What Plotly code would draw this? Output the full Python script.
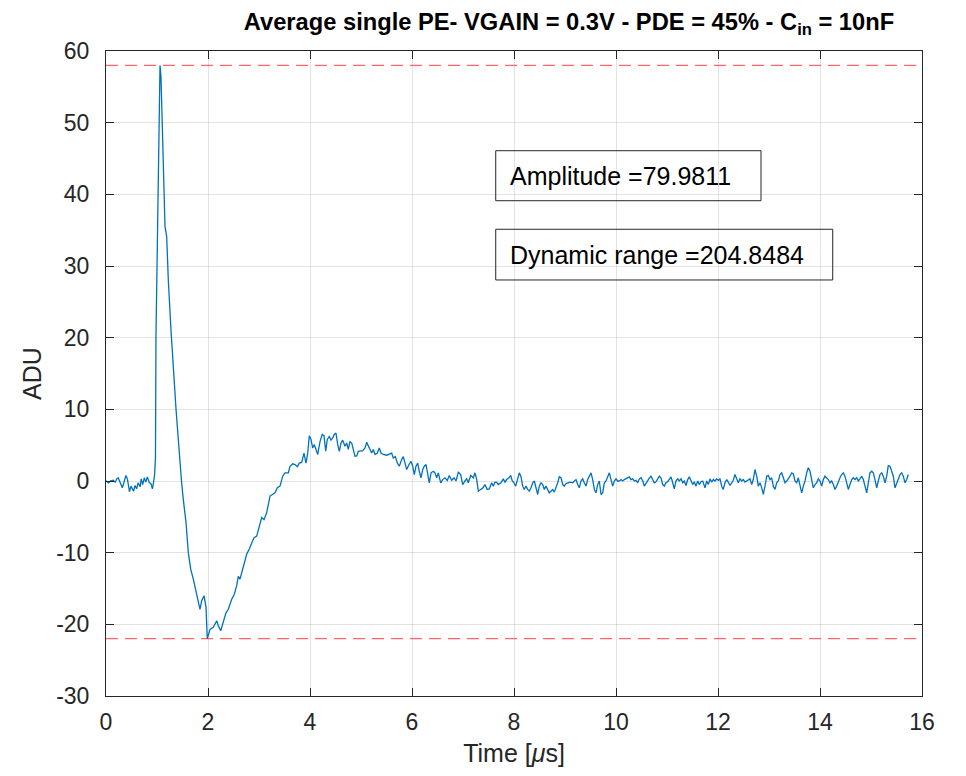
import plotly.graph_objects as go

# ---- averaged single-photoelectron waveform (time in microseconds, amplitude in ADU) ----
# pre-trigger baseline
t_baseline = [0.00, 0.045, 0.09, 0.14, 0.18, 0.21, 0.24, 0.27, 0.32, 0.35,
              0.39, 0.42, 0.46, 0.49, 0.52, 0.54, 0.57, 0.60, 0.63, 0.67,
              0.69, 0.72, 0.75, 0.78, 0.81, 0.85, 0.88, 0.91, 0.93, 0.95,
              0.96]
adu_baseline = [0.03, -0.25, 0.03, 0.12, -0.16, 0.30, 0.45, 0.00, -0.95, -0.25,
                0.77, 0.30, -1.50, -0.72, -1.18, -1.42, -0.63, -1.09, -0.25, -0.81,
                0.30, -0.50, 0.45, -0.16, 0.58, -0.25, -0.35, -1.09, -0.25, 0.67,
                1.83]

# fast pulse and undershoot
t_pulse = [0.97, 0.98, 1.006, 1.025, 1.059, 1.078, 1.124, 1.157, 1.190, 1.222,
           1.275, 1.324, 1.373, 1.418, 1.45, 1.48, 1.516, 1.569, 1.614, 1.661,
           1.712, 1.778, 1.843, 1.876, 1.922, 1.961, 1.986]
adu_pulse = [3.2, 20.2, 35.0, 46.0, 57.99, 56.4, 43.8, 35.5, 34.1, 28.0,
             21.0, 15.0, 10.0, 5.8, 2.06, 0.0, -2.6, -5.8, -10.0, -12.3,
             -13.7, -16.0, -17.9, -16.7, -16.0, -17.6, -21.9911]

# recovery from the undershoot
t_recovery = [2.04, 2.104, 2.171, 2.202, 2.249, 2.300, 2.353, 2.398, 2.465, 2.516,
              2.563, 2.594, 2.627, 2.661, 2.706, 2.759, 2.810, 2.857, 2.902, 2.955,
              3.006, 3.053, 3.098, 3.151, 3.216, 3.269, 3.314, 3.359, 3.412, 3.465,
              3.51, 3.575]
adu_recovery = [-20.7, -20.4, -19.5, -20.2, -20.9, -19.5, -18.4, -17.9, -16.5, -15.8,
                -14.6, -13.3, -13.7, -12.8, -11.4, -10.2, -9.5, -8.8, -7.9, -7.7,
                -6.5, -5.1, -5.4, -4.4, -2.1, -1.9, -1.65, -0.95, -0.72, 0.67,
                1.14, 1.14]

# slow overshoot
t_overshoot = [3.608, 3.661, 3.706, 3.751, 3.790, 3.837, 3.882, 3.922, 3.955, 3.986,
               4.020, 4.053, 4.084, 4.118, 4.151, 4.196, 4.241, 4.275, 4.308, 4.339,
               4.378, 4.412, 4.445, 4.476, 4.510, 4.543, 4.575, 4.608, 4.641, 4.686,
               4.720, 4.751, 4.784, 4.818, 4.849, 4.882, 4.916, 4.947, 4.994, 5.033,
               5.078, 5.112, 5.143, 5.176, 5.210, 5.241, 5.275, 5.320, 5.359, 5.392,
               5.437, 5.504, 5.569, 5.602, 5.633, 5.673, 5.712, 5.751, 5.798, 5.829,
               5.863, 5.896, 5.941, 5.980, 6.014, 6.045, 6.078, 6.112, 6.143, 6.176,
               6.210, 6.241, 6.275, 6.308, 6.339, 6.373, 6.418, 6.451, 6.484, 6.516,
               6.563, 6.602, 6.647, 6.692, 6.731, 6.778, 6.824, 6.863, 6.908, 6.955,
               6.994, 7.039, 7.073, 7.104, 7.151, 7.202, 7.235, 7.269, 7.300, 7.347,
               7.386, 7.431, 7.476, 7.516, 7.563, 7.594, 7.627, 7.661, 7.692]
adu_overshoot = [2.06, 2.4, 2.3, 2.0, 2.5, 2.6, 3.9, 2.5, 3.9, 6.3,
                 5.8, 4.6, 5.1, 4.4, 3.7, 5.5, 6.5, 6.3, 4.15, 5.8,
                 6.2, 5.7, 6.0, 6.5, 6.7, 5.1, 4.15, 5.3, 5.7, 4.85,
                 5.3, 4.4, 5.5, 5.3, 4.15, 3.45, 3.5, 4.15, 4.2, 4.2,
                 4.6, 5.4, 4.9, 4.4, 3.9, 4.4, 3.7, 3.9, 4.6, 3.9,
                 3.7, 3.6, 3.8, 3.9, 3.2, 3.4, 2.5, 2.06, 3.0, 3.4,
                 2.5, 1.6, 2.3, 2.76, 2.06, 0.9, 2.06, 2.5, 1.36, 0.45,
                 1.6, 2.06, 2.3, 1.14, -0.25, 1.14, 1.36, 1.14, 0.45, 1.14,
                 -0.25, 0.2, 0.45, 0.07, 0.77, 0.1, 0.45, 0.0, 1.23, 0.9,
                 -0.5, 0.0, 0.3, -0.25, 0.77, 0.45, 1.14, 0.2, -1.42, -1.18,
                 -1.0, -0.5, -1.18, -1.1, -0.25, -0.72, -0.16, -0.2, -0.5]

# tail, first part
t_tail_a = [7.745, 7.790, 7.824, 7.857, 7.902, 7.935, 7.967, 8.000, 8.033, 8.065,
            8.104, 8.137, 8.171, 8.202, 8.235, 8.269, 8.300, 8.333, 8.367, 8.398,
            8.431, 8.465, 8.496, 8.529, 8.563, 8.594, 8.627, 8.661, 8.692, 8.725,
            8.759, 8.790, 8.824, 8.857, 8.888, 8.922, 8.955, 8.986, 9.020, 9.053,
            9.098, 9.151, 9.176, 9.216, 9.249, 9.280, 9.314, 9.347, 9.378, 9.412,
            9.445, 9.477, 9.510, 9.543, 9.575, 9.608, 9.641, 9.673, 9.706, 9.739,
            9.771, 9.804, 9.837, 9.869, 9.902, 9.935, 9.967, 10.000, 10.033, 10.065,
            10.098, 10.131, 10.163, 10.196, 10.229, 10.261, 10.294]
adu_tail_a = [-0.25, 0.3, -0.16, 0.2, 0.45, 0.77, 0.0, -0.25, -0.72, 0.3,
              1.14, 0.6, -0.72, -1.18, -0.72, -1.18, -1.42, -0.95, -0.25, 0.0,
              -0.95, -1.88, -0.72, -0.25, -0.5, -1.18, -0.72, -1.18, -1.65, -1.42,
              -1.18, -1.55, -0.95, -0.25, 0.58, 0.45, -0.5, -0.72, -0.35, -0.25,
              -0.16, -0.25, -0.1, 0.2, -0.5, -0.95, 0.0, 0.3, -0.25, -0.72,
              0.2, 0.77, 1.14, 0.2, -1.18, -1.65, -0.5, 0.0, -1.88, -1.65,
              -0.25, 0.0, 0.58, 1.14, 0.2, -0.72, 0.0, 0.3, 0.0, 0.0,
              0.2, 0.0, 0.2, 0.3, 0.45, 0.58, 0.2]

# tail, second part
t_tail_b = [10.327, 10.359, 10.392, 10.425, 10.457, 10.490, 10.524, 10.555, 10.588, 10.622,
            10.653, 10.686, 10.720, 10.751, 10.784, 10.818, 10.849, 10.882, 10.916, 10.947,
            10.980, 11.014, 11.045, 11.078, 11.112, 11.143, 11.176, 11.210, 11.241, 11.275,
            11.308, 11.339, 11.373, 11.406, 11.437, 11.471, 11.504, 11.535, 11.569, 11.602,
            11.633, 11.667, 11.700]
adu_tail_b = [0.3, 0.0, 0.1, -0.25, 0.3, 0.45, 0.0, -0.72, -0.3, 0.2,
              0.4, 0.67, 0.2, -0.25, -0.1, 0.3, 0.67, 0.4, -0.5, -0.72,
              -0.25, -0.1, 0.3, 0.58, -0.25, -1.09, 0.0, 0.3, 0.0, 0.3,
              -0.25, 0.0, -0.63, 0.2, 0.58, 0.0, -0.5, -0.1, -0.72, 0.0,
              -0.5, -0.1, 0.0]

# tail, last part
t_tail_c = [11.745, 11.778, 11.810, 11.843, 11.876, 11.908, 11.941, 11.975, 12.006, 12.039,
            12.073, 12.104, 12.137, 12.171, 12.202, 12.235, 12.269, 12.300, 12.333, 12.367,
            12.398, 12.431, 12.465, 12.496, 12.529, 12.563, 12.594, 12.627, 12.661, 12.692,
            12.725, 12.759, 12.790, 12.824, 12.857, 12.888, 12.922, 12.955, 12.986, 13.020,
            13.053, 13.084, 13.118, 13.151, 13.182, 13.216, 13.249, 13.280, 13.314, 13.347,
            13.378, 13.412, 13.445, 13.476, 13.510, 13.543, 13.575, 13.608, 13.641, 13.673,
            13.706, 13.739, 13.771, 13.804, 13.837, 13.869, 13.902, 13.935, 13.967, 14.000,
            14.033, 14.065, 14.098, 14.131, 14.163, 14.196, 14.229, 14.261, 14.294, 14.327,
            14.359, 14.392, 14.425, 14.457, 14.490, 14.524, 14.555, 14.588, 14.622, 14.653,
            14.686, 14.720, 14.751, 14.784, 14.818, 14.849, 14.882, 14.916, 14.947, 14.980,
            15.014, 15.045, 15.078, 15.112, 15.143, 15.176, 15.210, 15.241, 15.275, 15.308,
            15.339, 15.373, 15.406, 15.437, 15.471, 15.504, 15.535, 15.569, 15.602, 15.633,
            15.667, 15.700, 15.731]
adu_tail_c = [-0.95, 0.0, -0.5, 0.3, -0.16, 0.2, 0.0, 0.3, 0.1, 0.3,
              -0.72, -1.18, -0.25, 0.2, -0.16, -0.63, -0.25, 0.1, 0.9, 0.2,
              -0.25, 0.3, 0.0, 0.2, -0.16, 0.0, 0.2, 0.3, -0.5, 0.2,
              1.6, 0.67, -0.72, -0.25, -0.95, -1.88, -0.72, 0.67, 0.77, 0.2,
              0.45, -0.72, -1.18, -0.25, 0.0, 0.9, 1.14, 0.45, -0.25, 0.0,
              0.3, 0.67, 1.14, 1.0, 0.0, -0.25, 0.45, -0.72, -1.65, -0.72,
              0.0, 1.14, 1.84, 1.36, 0.0, -0.95, -0.5, -0.25, 0.3, 0.0,
              -0.72, 0.2, 0.67, 0.45, 0.2, -0.25, 0.0, -0.5, -1.18, -0.72,
              0.0, 0.45, 0.9, 1.14, 0.67, -0.5, -1.18, -0.5, 0.2, 0.45,
              0.2, 0.45, 0.0, 0.3, 0.67, 0.2, -0.72, -1.65, -0.25, 1.14,
              1.36, 1.14, 0.2, -0.95, 0.0, 0.9, 1.14, 0.67, -0.25, 0.67,
              2.15, 2.06, 1.36, 0.67, -0.95, -0.25, 0.45, 0.9, 1.14, 0.67,
              -0.25, 0.2, 0.9]

x_ticks = [0, 2, 4, 6, 8, 10, 12, 14, 16]
y_ticks = [-30, -20, -10, 0, 10, 20, 30, 40, 50, 60]
x_range = [0, 16]
y_range = [-30, 60]
adc_full_scale = 2 ** 14

# ---- assemble the waveform ----
segments = [
    (t_baseline, adu_baseline),
    (t_pulse, adu_pulse),
    (t_recovery, adu_recovery),
    (t_overshoot, adu_overshoot),
    (t_tail_a, adu_tail_a),
    (t_tail_b, adu_tail_b),
    (t_tail_c, adu_tail_c),
]
time_us, adu = [], []
for ts, vs in segments:
    if len(ts) != len(vs):
        raise ValueError("segment length mismatch")
    time_us += ts
    adu += vs

peak = max(adu)
trough = min(adu)
amplitude = peak - trough
dynamic_range = adc_full_scale / amplitude

FONT = "Liberation Sans, Arial, Helvetica, sans-serif"
AXIS_COLOR = "#262626"
GRID_COLOR = "rgba(38,38,38,0.13)"

fig = go.Figure()

fig.add_trace(go.Scatter(
    x=time_us, y=adu, mode="lines",
    line=dict(color="#0072BD", width=1.3),
    showlegend=False, hoverinfo="skip",
))

# dashed markers for waveform maximum and minimum
for level in (peak, trough):
    fig.add_trace(go.Scatter(
        x=x_range, y=[level, level], mode="lines",
        line=dict(color="rgba(255,0,0,0.6)", width=1.2, dash="12px,7px"),
        showlegend=False, hoverinfo="skip",
    ))

axis_common = dict(
    showline=True, linecolor=AXIS_COLOR, linewidth=1, mirror="ticks",
    ticks="inside", ticklen=8, tickwidth=1, tickcolor=AXIS_COLOR,
    showgrid=True, gridcolor=GRID_COLOR, gridwidth=1,
    zeroline=False,
    tickfont=dict(family=FONT, size=23, color=AXIS_COLOR),
)

fig.update_xaxes(
    range=x_range, tickvals=x_ticks, ticktext=[str(v) for v in x_ticks],
    ticklabelstandoff=5,
    title=dict(text="Time [<i>\u03bc</i>s]", font=dict(family=FONT, size=25, color=AXIS_COLOR), standoff=10),
    **axis_common,
)
fig.update_yaxes(
    range=y_range, tickvals=y_ticks, ticktext=[str(v) for v in y_ticks],
    ticklabelstandoff=11,
    title=dict(text="ADU", font=dict(family=FONT, size=25, color=AXIS_COLOR), standoff=7),
    **axis_common,
)

# text boxes
boxes = [
    (f"Amplitude ={amplitude:.4f}", 0.4776, 0.8027, 0.7679, 0.8454),
    (f"Dynamic range ={dynamic_range:.4f}", 0.4776, 0.8906, 0.6450, 0.7236),
]
for text, x0, x1, y0, y1 in boxes:
    fig.add_shape(type="rect", xref="paper", yref="paper",
                  x0=x0, x1=x1, y0=y0, y1=y1,
                  line=dict(color="#262626", width=1), fillcolor="rgba(0,0,0,0)")
    fig.add_annotation(xref="paper", yref="paper", x=x0 + 0.0155, y=(y0 + y1) / 2,
                       xanchor="left", yanchor="middle", showarrow=False,
                       text=text, font=dict(family=FONT, size=25, color="#000000"))

fig.update_layout(
    width=966, height=776,
    margin=dict(l=106, r=44, t=51, b=80),
    paper_bgcolor="white", plot_bgcolor="white",
    title=dict(
        text="<b>Average single PE- VGAIN = 0.3V - PDE = 45% - C<sub>in</sub> = 10nF</b>",
        font=dict(family=FONT, size=23.7, color="#000000"),
        x=0.589, xanchor="center", xref="container",
        y=0.972, yanchor="middle", yref="container",
    ),
)

fig.write_html("out.html")
